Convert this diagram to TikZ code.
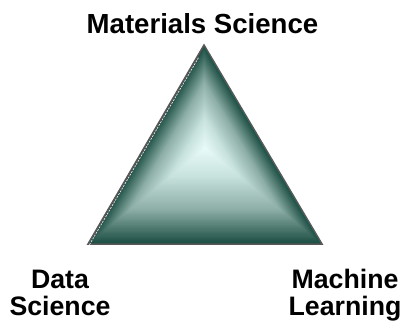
\documentclass[tikz,border=0pt]{standalone}
\usepackage{fontspec}
\setmainfont{Liberation Sans}
\usetikzlibrary{calc}

\definecolor{facedark}{RGB}{28,78,67}
\definecolor{facemid}{RGB}{140,174,166}
\definecolor{facepale}{RGB}{200,226,221}
\definecolor{facelight}{RGB}{233,252,249}
\definecolor{rimgray}{RGB}{88,88,88}

\begin{document}
\begin{tikzpicture}[x=1pt, y=-1pt, line join=miter]
      \tikzstyle{field} = [font=\bfseries\fontsize{26.7}{27}\selectfont, align=center, inner sep=0pt, anchor=base]
      \useasboundingbox (0,0) rectangle (408,322);
      \coordinate (top) at (204,45);
      \coordinate (left) at (88,244);
      \coordinate (right) at (322,244);
      \coordinate (glow) at (205,148);
      % nested triangles shrinking towards the glow point
      \foreach \i in {0,...,80}{
        \pgfmathsetmacro\t{\i/80}
        \pgfmathsetmacro\s{1-\t}
        \ifdim\t pt<0.35pt
          \pgfmathsetmacro\p{100*\t/0.35}
          \colorlet{facecol}{facemid!\p!facedark}
        \else\ifdim\t pt<0.7pt
          \pgfmathsetmacro\p{100*(\t-0.35)/0.35}
          \colorlet{facecol}{facepale!\p!facemid}
        \else
          \pgfmathsetmacro\p{100*(\t-0.7)/0.3}
          \colorlet{facecol}{facelight!\p!facepale}
        \fi\fi
        \fill[facecol] ($(glow)!\s!(top)$) -- ($(glow)!\s!(left)$) -- ($(glow)!\s!(right)$) -- cycle;
      }
      \draw[rimgray, line width=1.5pt] (top) -- (left) -- (right) -- cycle;
      \draw[white!85!gray, line width=0.7pt, dash pattern=on 2pt off 1.2pt]
        ($(top)!0.06!(left)+(1.4,0.8)$) -- ($(left)+(1.4,0.8)$);
      \node (ms) [field, font=\bfseries\fontsize{27.6}{28}\selectfont] at (202.5,33) {Materials Science};
      \node (ds) [field] at (60,315) {Data\\Science};
      \node (ml) [field] at (345,315) {Machine\\Learning};
    \end{tikzpicture}
\end{document}
